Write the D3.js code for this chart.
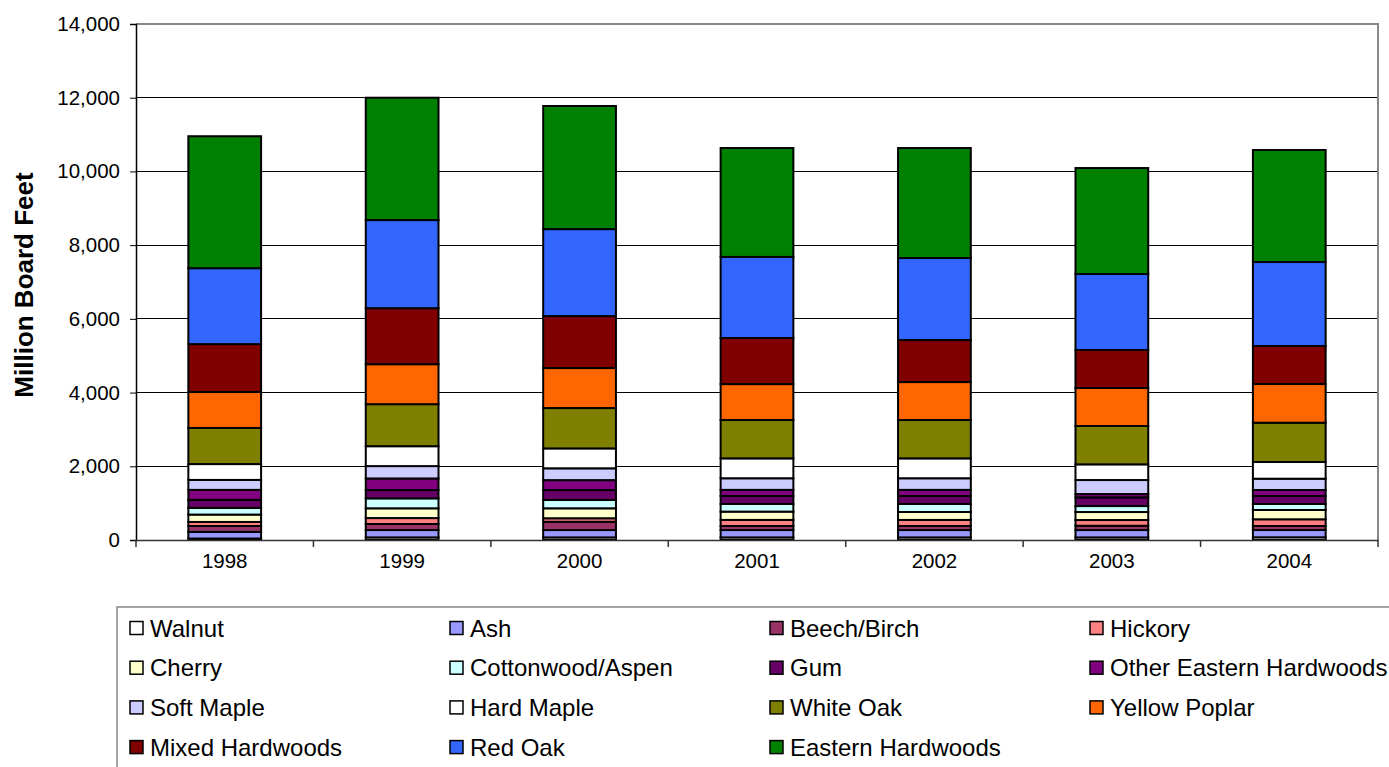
<!DOCTYPE html>
<html>
<head>
<meta charset="utf-8">
<script src="https://cdn.jsdelivr.net/npm/d3@7/dist/d3.min.js"></script>
<style>
  html, body { margin: 0; padding: 0; background: #fff; }
  svg { display: block; font-family: "Liberation Sans", Arial, sans-serif; }
</style>
</head>
<body>
<svg id="chart" width="1389" height="767"></svg>
<script>
const years = ["1998", "1999", "2000", "2001", "2002", "2003", "2004"];
const seriesNames = ["Walnut", "Ash", "Beech/Birch", "Hickory", "Cherry", "Cottonwood/Aspen", "Gum",
  "Other Eastern Hardwoods", "Soft Maple", "Hard Maple", "White Oak", "Yellow Poplar",
  "Mixed Hardwoods", "Red Oak", "Eastern Hardwoods"];
const seriesColors = ["#FFFFFF", "#9999FF", "#993366", "#FF8080", "#FFFFCC", "#CCFFFF", "#660066",
  "#800080", "#CCCCFF", "#FFFFFF", "#808000", "#FF6600", "#800000", "#3366FF", "#008000"];

const walnut      = [40, 70, 70, 70, 70, 70, 73];
const ash         = [180, 200, 200, 200, 200, 200, 198];
const beechBirch  = [160, 165, 225, 110, 110, 117, 109];
const hickory     = [110, 160, 95, 165, 165, 155, 182];
const cherry      = [200, 265, 270, 225, 215, 217, 252];
const cottonwood  = [180, 270, 225, 210, 220, 162, 163];
const gum         = [220, 225, 270, 215, 215, 236, 217];
const otherEH     = [270, 315, 270, 165, 165, 90, 163];
const softMaple   = [270, 335, 320, 315, 315, 380, 306];
const hardMaple   = [430, 540, 540, 540, 540, 426, 453];
const whiteOak    = [980, 1140, 1095, 1040, 1040, 1040, 1066];
const yellowPoplar= [975, 1085, 1085, 975, 1030, 1031, 1050];
const mixedHW     = [1300, 1520, 1410, 1250, 1140, 1031, 1031];
const redOak      = [2060, 2390, 2360, 2200, 2225, 2062, 2279];
const easternHW   = [3580, 3320, 3340, 2955, 2985, 2875, 3039];

const yTicks = [0, 2000, 4000, 6000, 8000, 10000, 12000, 14000];

const seriesValues = [walnut, ash, beechBirch, hickory, cherry, cottonwood, gum, otherEH,
  softMaple, hardMaple, whiteOak, yellowPoplar, mixedHW, redOak, easternHW];

const rows = years.map((yr, i) => {
  const r = { year: yr };
  seriesNames.forEach((s, j) => r[s] = seriesValues[j][i]);
  return r;
});

const svg = d3.select("#chart");
const L = 136, R = 1378, T = 24, B = 540;

const x = d3.scaleBand().domain(years).range([L, R]).paddingInner(0.59).paddingOuter(0.295);
const y = d3.scaleLinear().domain([0, 14000]).range([B, T]);

// gridlines
svg.append("g").selectAll("line").data(yTicks.filter(d => d > 0 && d < 14000)).join("line")
  .attr("x1", L).attr("x2", R).attr("y1", d => y(d)).attr("y2", d => y(d))
  .attr("stroke", "#000").attr("stroke-width", 1).attr("shape-rendering", "crispEdges");

// plot border top/right
svg.append("path")
  .attr("d", `M${L},${y(14000)}H${R}V${B}`)
  .attr("fill", "none").attr("stroke", "#888").attr("stroke-width", 2);

// stacked bars
const stack = d3.stack().keys(seriesNames);
const stacked = stack(rows);
const gBars = svg.append("g");
stacked.forEach((layer, j) => {
  gBars.append("g").selectAll("rect").data(layer).join("rect")
    .attr("x", d => x(d.data.year))
    .attr("width", x.bandwidth())
    .attr("y", d => y(d[1]))
    .attr("height", d => y(d[0]) - y(d[1]))
    .attr("fill", seriesColors[j])
    .attr("stroke", "#000")
    .attr("stroke-width", 2);
});

// y axis
const yAxis = d3.axisLeft(y).tickValues(yTicks).tickSize(6).tickPadding(10)
  .tickFormat(d3.format(","));
const gy = svg.append("g").attr("transform", `translate(${L},0)`).call(yAxis);
gy.select(".domain").attr("stroke", "#000").attr("stroke-width", 1.5);
gy.selectAll(".tick line").attr("stroke", "#000");
gy.selectAll(".tick text").attr("font-size", 20.5).attr("fill", "#000")
  .attr("font-family", "Liberation Sans, Arial, sans-serif");

// x axis
const xAxis = d3.axisBottom(x).tickSize(0).tickPadding(28);
const gx = svg.append("g").attr("transform", `translate(0,${B})`).call(xAxis);
gx.select(".domain").attr("stroke", "#333").attr("stroke-width", 1.5);
gx.selectAll(".tick text").attr("font-size", 20.5).attr("fill", "#000")
  .attr("font-family", "Liberation Sans, Arial, sans-serif").attr("dy", "0");
// category boundary ticks
const bounds = years.map(yr => x(yr) - x.step() * x.paddingOuter()).concat([R]);
gx.append("g").selectAll("line").data(bounds).join("line")
  .attr("x1", d => d).attr("x2", d => d).attr("y1", 0).attr("y2", 7)
  .attr("stroke", "#333").attr("stroke-width", 1.5);

// y title
svg.append("text")
  .attr("transform", `translate(33,${(T + B) / 2 + 3}) rotate(-90)`)
  .attr("text-anchor", "middle")
  .attr("font-size", 26).attr("font-weight", "bold")
  .text("Million Board Feet");

// legend
svg.append("rect").attr("x", 117).attr("y", 607).attr("width", 1300).attr("height", 200)
  .attr("fill", "none").attr("stroke", "#888").attr("stroke-width", 1.5);
const lg = svg.append("g");
seriesNames.forEach((s, j) => {
  const col = j % 4, row = Math.floor(j / 4);
  const lx = 130 + col * 320, ly = 628 + row * 39.7;
  lg.append("rect").attr("x", lx).attr("y", ly - 6.5).attr("width", 13).attr("height", 13)
    .attr("fill", seriesColors[j]).attr("stroke", "#000").attr("stroke-width", 1.5);
  lg.append("text").attr("x", lx + 20).attr("y", ly + 8.5).attr("font-size", 24)
    .attr("fill", "#000").text(s);
});
</script>
</body>
</html>
